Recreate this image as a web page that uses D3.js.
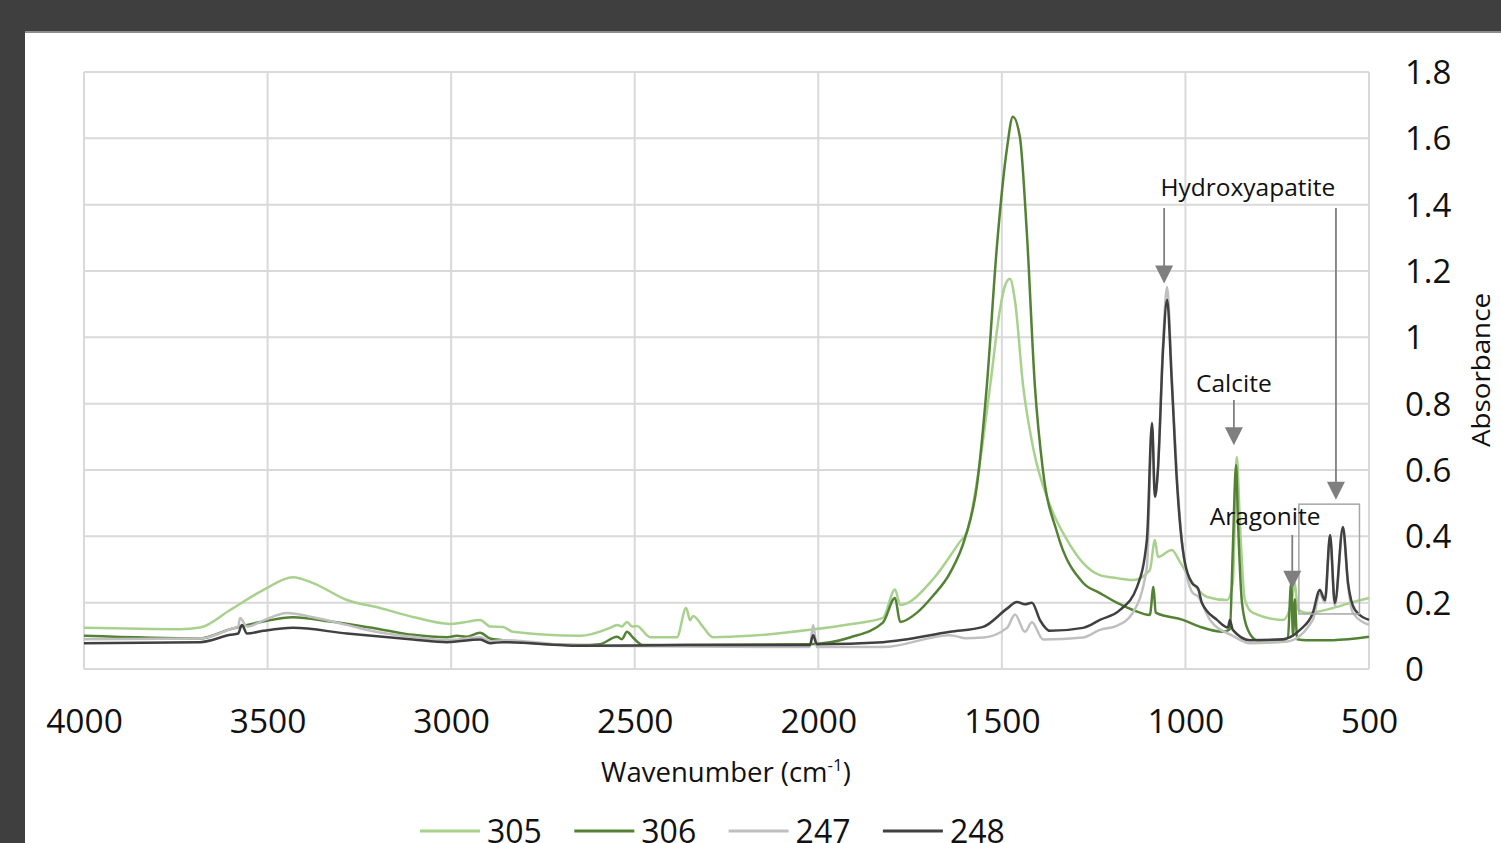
<!DOCTYPE html>
<html>
<head>
<meta charset="utf-8">
<script src="https://cdn.jsdelivr.net/npm/d3@7"></script>
<style>
  body { margin: 0; background: #3f3f3f; }
  svg { display: block; font-family: "Open Sans", sans-serif; }
</style>
</head>
<body>
<div id="chart"></div>
<script>
// spectra: [wavenumber (cm-1), absorbance]
const s305 = [[4000,0.124],[3739,0.12],[3684,0.125],[3602,0.178],[3512,0.238],[3431,0.277],[3376,0.259],[3284,0.208],[3194,0.184],[3104,0.157],[3003,0.136],[2968,0.14],[2921,0.148],[2894,0.128],[2859,0.127],[2832,0.112],[2649,0.1],[2567,0.124],[2548,0.133],[2535,0.128],[2521,0.142],[2507,0.128],[2494,0.13],[2458,0.096],[2385,0.096],[2360,0.184],[2349,0.147],[2341,0.16],[2314,0.127],[2287,0.096],[2186,0.1],[2023,0.118],[1914,0.135],[1824,0.154],[1791,0.24],[1777,0.193],[1688,0.27],[1614,0.384],[1595,0.413],[1560,0.622],[1532,0.853],[1505,1.085],[1492,1.154],[1478,1.177],[1464,1.108],[1442,0.853],[1415,0.668],[1369,0.494],[1323,0.39],[1279,0.32],[1233,0.283],[1187,0.274],[1143,0.268],[1097,0.298],[1083,0.389],[1075,0.338],[1037,0.359],[1015,0.323],[980,0.259],[941,0.217],[887,0.208],[871,0.259],[860,0.639],[852,0.45],[838,0.208],[816,0.169],[734,0.148],[710,0.208],[702,0.26],[694,0.18],[669,0.169],[598,0.184],[552,0.199],[500,0.214]];

const s306 = [[4000,0.1],[3684,0.092],[3602,0.12],[3512,0.143],[3431,0.156],[3330,0.143],[3194,0.12],[3104,0.103],[3011,0.096],[2984,0.1],[2960,0.097],[2921,0.109],[2894,0.092],[2859,0.087],[2649,0.072],[2595,0.075],[2548,0.097],[2535,0.09],[2521,0.112],[2505,0.095],[2477,0.072],[2023,0.075],[1914,0.095],[1824,0.14],[1791,0.214],[1777,0.142],[1731,0.17],[1688,0.22],[1641,0.29],[1600,0.396],[1568,0.552],[1541,0.853],[1513,1.281],[1486,1.57],[1470,1.665],[1451,1.605],[1432,1.316],[1410,0.853],[1388,0.598],[1350,0.413],[1279,0.26],[1233,0.229],[1187,0.2],[1143,0.178],[1097,0.163],[1087,0.247],[1081,0.17],[1007,0.148],[960,0.127],[898,0.112],[879,0.12],[871,0.359],[862,0.615],[857,0.45],[846,0.2],[830,0.118],[805,0.087],[734,0.087],[721,0.095],[712,0.259],[707,0.1],[702,0.21],[696,0.09],[669,0.087],[598,0.087],[500,0.097]];

const s247 = [[4000,0.09],[3684,0.092],[3602,0.12],[3580,0.128],[3575,0.154],[3556,0.128],[3512,0.146],[3447,0.169],[3376,0.156],[3284,0.133],[3194,0.11],[3104,0.097],[3011,0.087],[2921,0.096],[2894,0.083],[2859,0.087],[2649,0.07],[2358,0.068],[2023,0.066],[2014,0.133],[2004,0.066],[1824,0.066],[1641,0.102],[1600,0.093],[1551,0.095],[1486,0.124],[1464,0.164],[1437,0.112],[1418,0.141],[1388,0.089],[1279,0.095],[1233,0.118],[1187,0.13],[1143,0.17],[1105,0.308],[1091,0.73],[1083,0.52],[1075,0.6],[1061,0.98],[1050,1.152],[1037,0.88],[1023,0.58],[1007,0.36],[980,0.229],[966,0.219],[933,0.148],[871,0.1],[824,0.078],[723,0.083],[653,0.148],[634,0.228],[620,0.2],[606,0.39],[593,0.19],[571,0.42],[557,0.25],[544,0.17],[500,0.133]];

const s248 = [[4000,0.078],[3684,0.081],[3602,0.103],[3580,0.107],[3570,0.133],[3556,0.107],[3512,0.115],[3431,0.124],[3284,0.107],[3104,0.089],[3011,0.081],[2921,0.089],[2894,0.078],[2859,0.081],[2649,0.07],[2358,0.072],[2023,0.072],[2014,0.102],[2004,0.075],[1824,0.081],[1641,0.112],[1551,0.127],[1486,0.182],[1459,0.202],[1437,0.195],[1418,0.2],[1396,0.147],[1369,0.115],[1279,0.124],[1233,0.148],[1178,0.178],[1132,0.247],[1105,0.389],[1091,0.742],[1083,0.519],[1075,0.6],[1061,0.962],[1050,1.113],[1037,0.862],[1023,0.561],[1007,0.359],[982,0.259],[966,0.244],[955,0.199],[914,0.148],[884,0.125],[879,0.148],[871,0.118],[824,0.087],[734,0.09],[688,0.118],[653,0.169],[634,0.238],[620,0.208],[606,0.404],[593,0.199],[571,0.428],[557,0.259],[538,0.178],[500,0.148]];

const seriesNames = ["305", "306", "247", "248"];
const seriesColors = ["#a9d18e", "#548235", "#bfbfbf", "#404040"];
const xTicks = [4000, 3500, 3000, 2500, 2000, 1500, 1000, 500];
const yTicks = [0, 0.2, 0.4, 0.6, 0.8, 1, 1.2, 1.4, 1.6, 1.8];

// annotation labels and arrows, in data units
const labels = [
  {text: "Hydroxyapatite", wn: 830, a: 1.453},
  {text: "Calcite", wn: 868, a: 0.862},
  {text: "Aragonite", wn: 783, a: 0.461}
];
const arrows = [
  {wn: 1058, from: 1.39, to: 1.162},
  {wn: 590, from: 1.39, to: 0.51},
  {wn: 868, from: 0.811, to: 0.675},
  {wn: 709, from: 0.404, to: 0.242}
];
const box = {wn0: 691, wn1: 526, a0: 0.497, a1: 0.166};

const W = 1501, H = 843;
const margin = {top: 72, right: 132, bottom: 174, left: 84};
const width = W - margin.left - margin.right,
      height = H - margin.top - margin.bottom;

const svg = d3.select("#chart")
  .append("svg")
    .attr("width", W)
    .attr("height", H);

// dark frame and white panel
svg.append("rect").attr("width", W).attr("height", H).attr("fill", "#3f3f3f");
svg.append("rect").attr("x", 25).attr("y", 31).attr("width", W - 25).attr("height", H - 31).attr("fill", "#8c8c8c");
svg.append("rect").attr("x", 25).attr("y", 33).attr("width", W - 25).attr("height", H - 33).attr("fill", "#ffffff");

const g = svg.append("g")
  .attr("transform", `translate(${margin.left},${margin.top})`);

const x = d3.scaleLinear().domain([4000, 500]).range([0, width]);
const y = d3.scaleLinear().domain([0, 1.8]).range([height, 0]);

// gridlines
g.append("g")
  .selectAll("line")
  .data(xTicks)
  .join("line")
    .attr("x1", d => x(d)).attr("x2", d => x(d))
    .attr("y1", 0).attr("y2", height)
    .attr("stroke", "#d9d9d9").attr("stroke-width", 2);
g.append("g")
  .selectAll("line")
  .data(yTicks)
  .join("line")
    .attr("x1", 0).attr("x2", width)
    .attr("y1", d => y(d)).attr("y2", d => y(d))
    .attr("stroke", "#d9d9d9").attr("stroke-width", 2);

// X axis labels
const xAxis = g.append("g")
  .attr("transform", `translate(0, ${height})`)
  .call(d3.axisBottom(x).tickValues(xTicks).tickSize(0).tickPadding(0).tickFormat(d3.format("d")));
xAxis.select(".domain").remove();
xAxis.selectAll("text")
  .attr("y", 64).attr("dy", null)
  .attr("font-size", 33.5).attr("font-family", "Open Sans, sans-serif").attr("fill", "#111");

// Y axis labels on the right
const yAxis = g.append("g")
  .attr("transform", `translate(${width}, 0)`)
  .call(d3.axisRight(y).tickValues(yTicks).tickSize(0).tickPadding(0).tickFormat(d => d3.format("")(+d.toFixed(1))));
yAxis.select(".domain").remove();
yAxis.selectAll("text")
  .attr("x", 36).attr("dy", "0.35em")
  .attr("font-size", 33).attr("font-family", "Open Sans, sans-serif").attr("fill", "#111");

// axis titles
const xTitle = svg.append("text")
  .attr("x", 726).attr("y", 782)
  .attr("text-anchor", "middle")
  .attr("font-size", 27.5).attr("fill", "#111");
xTitle.append("tspan").text("Wavenumber (cm");
xTitle.append("tspan").text("-1").attr("font-size", 17).attr("dy", -11);
xTitle.append("tspan").text(")").attr("dy", 11);

svg.append("text")
  .attr("transform", "translate(1490, 370) rotate(-90)")
  .attr("text-anchor", "middle")
  .attr("font-size", 25).attr("fill", "#111")
  .attr("textLength", 154).attr("lengthAdjust", "spacingAndGlyphs")
  .text("Absorbance");

// spectra
const line = d3.line()
  .x(d => x(d[0]))
  .y(d => y(d[1]))
  .curve(d3.curveMonotoneX);

const allSeries = [s305, s306, s247, s248];
g.append("g")
  .selectAll("path")
  .data(allSeries)
  .join("path")
    .attr("fill", "none")
    .attr("stroke", (d, i) => seriesColors[i])
    .attr("stroke-width", 2.5)
    .attr("stroke-linejoin", "round")
    .attr("d", line);

// annotations
const ann = g.append("g");
ann.append("rect")
  .attr("x", x(box.wn0)).attr("y", y(box.a0))
  .attr("width", x(box.wn1) - x(box.wn0))
  .attr("height", y(box.a1) - y(box.a0))
  .attr("fill", "none").attr("stroke", "#a6a6a6").attr("stroke-width", 1.5);

arrows.forEach(a => {
  const ax = x(a.wn), y0 = y(a.from), y1 = y(a.to);
  ann.append("line")
    .attr("x1", ax).attr("x2", ax)
    .attr("y1", y0).attr("y2", y1 - 14)
    .attr("stroke", "#7f7f7f").attr("stroke-width", 1.8);
  ann.append("path")
    .attr("d", `M${ax - 9},${y1 - 18}L${ax + 9},${y1 - 18}L${ax},${y1}Z`)
    .attr("fill", "#7f7f7f");
});

ann.selectAll("text")
  .data(labels)
  .join("text")
    .attr("x", d => x(d.wn))
    .attr("y", d => y(d.a))
    .attr("dy", "0.35em")
    .attr("text-anchor", "middle")
    .attr("font-size", 24.5)
    .attr("fill", "#111")
    .text(d => d.text);

// legend
const legend = svg.append("g").attr("transform", "translate(420, 831)");
const item = legend.selectAll("g")
  .data(seriesNames)
  .join("g")
    .attr("transform", (d, i) => `translate(${i * 154.3}, 0)`);
item.append("line")
  .attr("x1", 0).attr("x2", 60)
  .attr("stroke", (d, i) => seriesColors[i])
  .attr("stroke-width", 3);
item.append("text")
  .attr("x", 67).attr("y", 12)
  .attr("font-size", 32).attr("fill", "#111")
  .text(d => d);
</script>
</body>
</html>
